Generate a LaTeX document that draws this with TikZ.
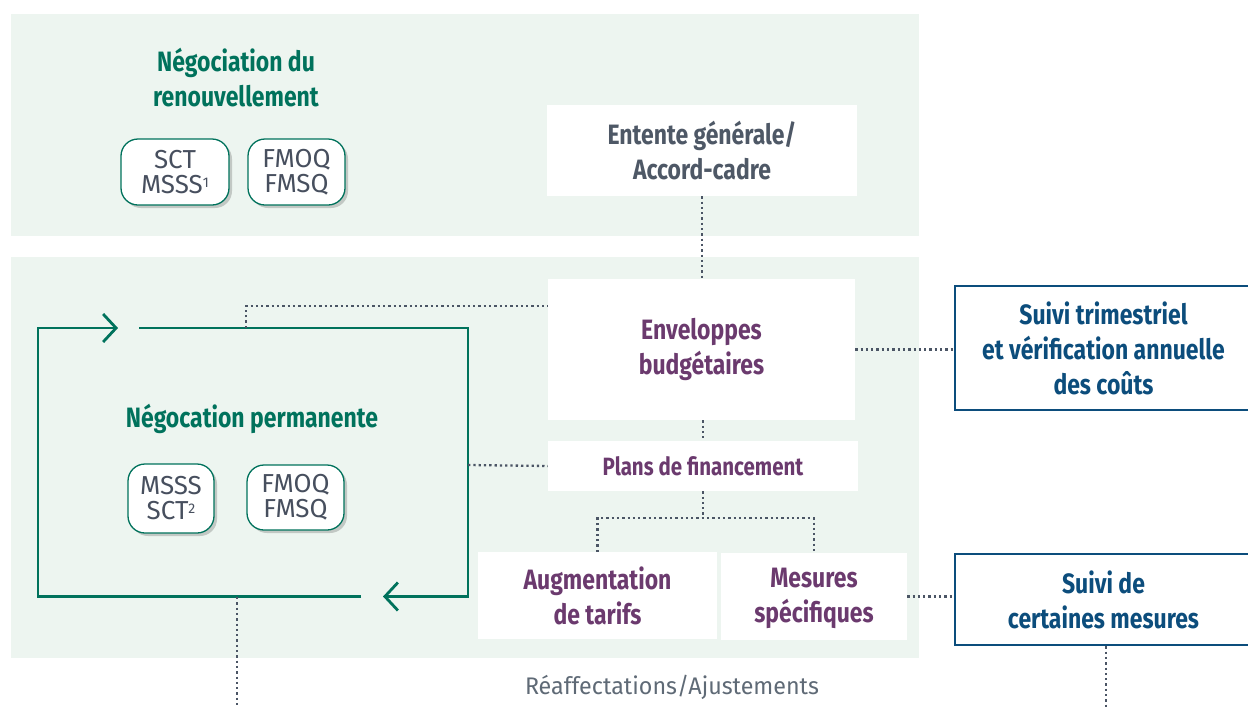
\documentclass[tikz,border=0pt]{standalone}
\usepackage{fontspec}
\setmainfont{Fira Sans}
\newfontfamily\cond[FakeStretch=0.82]{Fira Sans}
\usetikzlibrary{arrows.meta,shadows,calc}
\definecolor{panel}{HTML}{EDF5F0}
\definecolor{tealg}{HTML}{00725C}
\definecolor{purp}{HTML}{6B3A6E}
\definecolor{navyb}{HTML}{0C4D7C}
\definecolor{slate}{HTML}{4E5866}
\definecolor{pillt}{HTML}{474F5E}
\definecolor{dotc}{HTML}{4B5565}
\definecolor{greyt}{HTML}{5F6A76}
\newcommand{\supnum}[1]{\raisebox{6pt}{\fontsize{14}{14}\selectfont #1}}
\tikzset{
  head/.style={font=\cond\bfseries\fontsize{28}{35}\selectfont, align=center},
  wbox/.style={head, fill=white, inner sep=0pt, text=purp},
  suivi/.style={head, draw=navyb, line width=2.6pt, fill=white, inner sep=0pt, text=navyb},
  pill/.style={draw=tealg, line width=1.3pt, fill=white, rounded corners=17pt,
    drop shadow={shadow xshift=3pt, shadow yshift=-3pt, opacity=0.18, fill=black},
    font=\fontsize{26}{25}\selectfont, text=pillt, align=center, inner sep=0pt},
  dots/.style={draw=dotc, line width=2.3pt, dash pattern=on 2.3pt off 3pt},
  cycle/.style={draw=tealg, line width=2.8pt, -{Straight Barb[length=13pt,width=28pt,line width=2.8pt]}},
}
\begin{document}
\begin{tikzpicture}[x=1pt,y=-1pt]
\clip (0,0) rectangle (1248,710);
\fill[white] (0,0) rectangle (1248,710);
% panels
\fill[panel] (11,14) rectangle (919,236);
\fill[panel] (11,257) rectangle (919,658);

% top panel
\node[head, text=tealg] (h1) at (236,78) {Négociation du\\renouvellement};
\node[pill, minimum width=108pt, minimum height=66pt] (p1) at (175,172) {SCT\\MSSS\supnum{1}};
\node[pill, minimum width=97pt, minimum height=66pt] (p2) at (296.5,172) {FMOQ\\FMSQ};
\node[wbox, text=slate, minimum width=310pt, minimum height=91pt] (ent) at (702,150.5) {Entente générale/\\Accord-cadre};

% bottom panel boxes
\node[wbox, minimum width=307pt, minimum height=141pt] (env) at (701.5,349.5) {Enveloppes\\budgétaires};
\node[wbox, font=\cond\bfseries\fontsize{25}{30}\selectfont, minimum width=310pt, minimum height=50pt] (plans) at (703,466) {Plans de financement};
\node[wbox, minimum width=239pt, minimum height=87pt] (aug) at (597.5,595.5) {Augmentation\\de tarifs};
\node[wbox, minimum width=186pt, minimum height=87pt, text depth=3pt] (mes) at (814,596.5) {Mesures\\spécifiques};

\node[suivi, minimum width=297pt, minimum height=124pt] (st) at (1103.5,348) {Suivi trimestriel\\et vérification annuelle\\des coûts};
\node[suivi, minimum width=297pt, minimum height=91pt] (sd) at (1103.5,599.5) {Suivi de\\certaines mesures};

% loop
\node[head, text=tealg] (h2) at (252,419) {Négocation permanente};
\node[pill, minimum width=86pt, minimum height=69pt] (p3) at (171,498.5) {MSSS\\SCT\supnum{2}};
\node[pill, minimum width=97pt, minimum height=65pt] (p4) at (295.5,497.5) {FMOQ\\FMSQ};

\coordinate (la) at (139,328);
\coordinate (lb) at (468,596.5);
\coordinate (lc) at (383,596.5);
\coordinate (ld) at (361,596.5);
\coordinate (le) at (38,328);
\coordinate (lf) at (118,328);
\draw[cycle] (la) -| (lb) -- (lc);
\draw[cycle] (ld) -| (le) -- (lf);

\node[text=greyt, font=\fontsize{24}{24}\selectfont\addfontfeature{FakeStretch=0.97}, inner sep=0pt] (reaf) at (672,687) {Réaffectations/Ajustements};

% dotted connectors
\coordinate (t1) at (246,328);
\coordinate (e1) at (548,306);
\coordinate (r1) at (468,465);
\coordinate (b1) at (237,597);
\coordinate (b2) at (237,708);
\coordinate (b3) at (1106,708);
\draw[dots] (ent.south) -- (ent.south |- env.north);
\draw[dots] (t1) |- (e1);
\draw[dots] (r1) -- (plans.west);
\draw[dots] (env.south -| plans.north) -- (plans.north);
\draw[dots] (plans.south) -- ++(0,27) coordinate (br);
\draw[dots] (aug.north) |- (br) -| (mes.north);
\draw[dots] (env.east) -- (env.east -| st.west);
\draw[dots] (mes.east) -- (mes.east -| sd.west);
\draw[dots] (b1) -- (b2);
\draw[dots] (sd.south -| b3) -- (b3);
\end{tikzpicture}
\end{document}
